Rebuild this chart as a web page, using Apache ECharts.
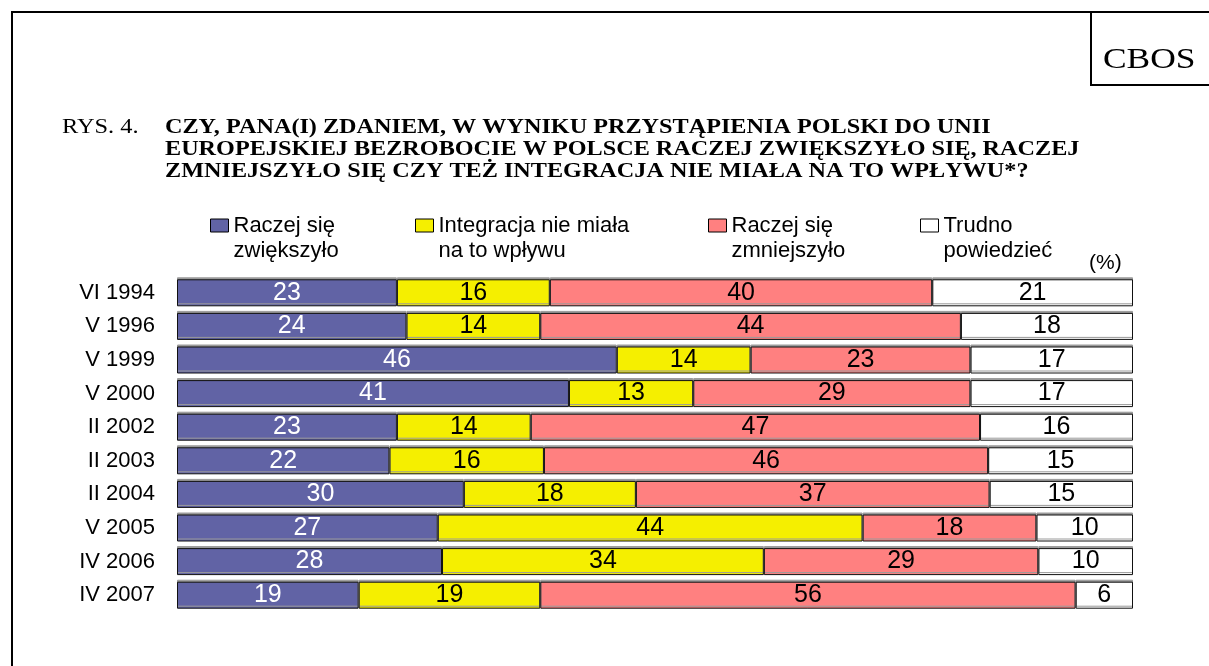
<!DOCTYPE html>
<html>
<head>
<meta charset="utf-8">
<style>html,body{margin:0;padding:0;background:#fff}#c{width:1209px;height:666px}</style>
<script src="https://cdn.jsdelivr.net/npm/echarts@6/dist/echarts.min.js"></script>
</head>
<body>
<div id="c"></div>
<script>
var categories = ['VI 1994','V 1996','V 1999','V 2000','II 2002','II 2003','II 2004','V 2005','IV 2006','IV 2007'];
var zwiekszylo = [23,24,46,41,23,22,30,27,28,19];
var brakWplywu = [16,14,14,13,14,16,18,44,34,19];
var zmniejszylo = [40,44,23,29,47,46,37,18,29,56];
var trudno = [21,18,17,17,16,15,15,10,10,6];
var seriesNames = ['Raczej się\nzwiększyło','Integracja nie miała\nna to wpływu','Raczej się\nzmniejszyło','Trudno\npowiedzieć'];
var colors = ['#6163A5','#F5EF00','#FF8080','#FFFFFF'];
var labelColors = ['#FFFFFF','#000000','#000000','#000000'];

var raw = [zwiekszylo, brakWplywu, zmniejszylo, trudno];
var totals = categories.map(function(c,i){ return raw.reduce(function(s,a){return s+a[i];},0); });

var chart = echarts.init(document.getElementById('c'), null, {renderer:'canvas'});
var legendLefts = [205, 410, 703, 915];
var sans = '"Liberation Sans", Arial, sans-serif';
var serif = '"Liberation Serif", "Times New Roman", serif';
var series = raw.map(function(arr, k){
  return {
    name: seriesNames[k],
    type: 'bar',
    stack: 'all',
    barWidth: 27,
    data: arr.map(function(v,i){ return {value: v/totals[i]*100, raw: v}; }),
    itemStyle: {color: colors[k], borderColor: '#111', borderWidth: 1,
                shadowColor: '#9a9a9a', shadowOffsetY: -2, shadowBlur: 0},
    label: {
      show: true, position: 'inside', color: labelColors[k],
      fontFamily: sans, fontSize: 25,
      formatter: function(p){ return p.data.raw; }
    }
  };
});
var legends = seriesNames.map(function(n,k){
  return {
    data: [n], left: legendLefts[k], top: 183, icon: 'rect',
    itemWidth: 18, itemHeight: 13, itemGap: 15,
    selectedMode: false,
    formatter: function(name){ return '\n' + name; },
    itemStyle: {borderColor: '#000', borderWidth: 1},
    textStyle: {fontFamily: sans, fontSize: 22, color: '#000', lineHeight: 25}
  };
});
chart.setOption({
  animation: false,
  backgroundColor: '#fff',
  legend: legends,
  grid: {left: 177, right: 76, top: 276, bottom: 54},
  xAxis: {type: 'value', min: 0, max: 100, show: false},
  yAxis: {
    type: 'category', data: categories, inverse: true,
    axisLine: {show: false}, axisTick: {show: false},
    axisLabel: {color: '#000', fontFamily: sans, fontSize: 22, margin: 22}
  },
  series: series,
  graphic: [
    {type: 'rect', shape: {x: 12, y: 12, width: 1400, height: 1000}, style: {fill: 'none', stroke: '#000', lineWidth: 2}, silent: true},
    {type: 'polyline', shape: {points: [[1091,12],[1091,85],[1220,85]]}, style: {fill: 'none', stroke: '#000', lineWidth: 2}},
    {type: 'text', x: 1103, y: 60, scaleX: 1.18, style: {text: 'CBOS', fill: '#000', font: '30px ' + serif, textVerticalAlign: 'middle'}},
    {type: 'text', x: 62, y: 128, scaleX: 1.22, style: {text: 'RYS. 4.', fill: '#000', font: '20px ' + serif, textVerticalAlign: 'middle'}},
    {type: 'text', x: 165, y: 117, scaleX: 1.21, style: {text: 'CZY, PANA(I) ZDANIEM, W WYNIKU PRZYSTĄPIENIA POLSKI DO UNII\nEUROPEJSKIEJ BEZROBOCIE W POLSCE RACZEJ ZWIĘKSZYŁO SIĘ, RACZEJ\nZMNIEJSZYŁO SIĘ CZY TEŻ INTEGRACJA NIE MIAŁA NA TO WPŁYWU*?', fill: '#000', font: 'bold 20px ' + serif, lineHeight: 22, textVerticalAlign: 'top'}},
    {type: 'text', x: 1089, y: 253, style: {text: '(%)', fill: '#000', font: '21px ' + sans, textVerticalAlign: 'top'}}
  ]
});
</script>
</body>
</html>
